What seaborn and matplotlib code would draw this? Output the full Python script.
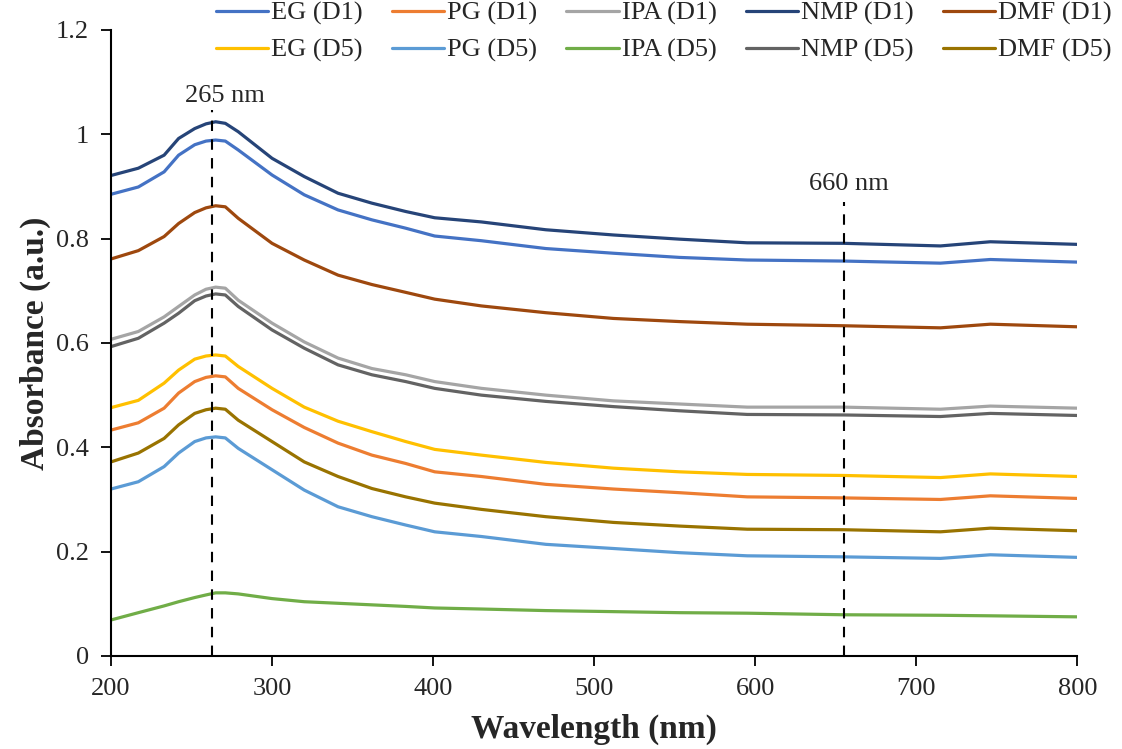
import matplotlib
matplotlib.use('Agg')
from matplotlib import pyplot as plt
import seaborn as sns
import numpy as np
import pandas as pd

sns.set_theme(style='ticks')
plt.rcParams['font.family'] = ['Liberation Serif', 'DejaVu Serif']

# Longitud de onda (nm) y absorbancias
wavelength = [200, 217, 233, 242, 252, 259, 265, 271, 279, 300, 320, 341,
              362, 383, 401, 430, 470, 512, 553, 595, 655, 715, 746, 800]

eg_d1 = [0.885, 0.899, 0.928, 0.960, 0.980, 0.987, 0.989, 0.987, 0.970, 0.922, 0.884, 0.855,
         0.836, 0.820, 0.805, 0.796, 0.781, 0.772, 0.764, 0.759, 0.757, 0.753, 0.760, 0.755]
pg_d1 = [0.433, 0.447, 0.475, 0.504, 0.526, 0.534, 0.537, 0.535, 0.513, 0.472, 0.438, 0.408,
         0.385, 0.369, 0.353, 0.344, 0.329, 0.320, 0.313, 0.305, 0.303, 0.300, 0.307, 0.302]
ipa_d1 = [0.607, 0.622, 0.650, 0.670, 0.692, 0.703, 0.707, 0.705, 0.682, 0.638, 0.602, 0.571,
          0.551, 0.539, 0.526, 0.513, 0.500, 0.489, 0.483, 0.477, 0.477, 0.473, 0.479, 0.475]
nmp_d1 = [0.921, 0.935, 0.960, 0.992, 1.011, 1.020, 1.024, 1.021, 1.005, 0.954, 0.919, 0.887,
          0.868, 0.852, 0.840, 0.832, 0.817, 0.807, 0.799, 0.792, 0.791, 0.786, 0.794, 0.789]
dmf_d1 = [0.761, 0.777, 0.804, 0.829, 0.850, 0.859, 0.863, 0.861, 0.839, 0.791, 0.759, 0.730,
          0.712, 0.697, 0.684, 0.671, 0.658, 0.647, 0.641, 0.636, 0.633, 0.629, 0.636, 0.631]
eg_d5 = [0.476, 0.490, 0.523, 0.548, 0.569, 0.575, 0.577, 0.575, 0.555, 0.513, 0.477, 0.450,
         0.430, 0.411, 0.396, 0.385, 0.371, 0.360, 0.353, 0.348, 0.346, 0.342, 0.349, 0.344]
pg_d5 = [0.320, 0.334, 0.363, 0.389, 0.411, 0.418, 0.420, 0.418, 0.398, 0.357, 0.318, 0.286,
         0.267, 0.251, 0.238, 0.229, 0.214, 0.206, 0.198, 0.192, 0.190, 0.187, 0.194, 0.189]
ipa_d5 = [0.069, 0.083, 0.096, 0.104, 0.112, 0.117, 0.121, 0.121, 0.119, 0.110, 0.104, 0.101,
          0.098, 0.095, 0.092, 0.090, 0.087, 0.085, 0.083, 0.082, 0.079, 0.078, 0.077, 0.075]
nmp_d5 = [0.593, 0.609, 0.638, 0.657, 0.681, 0.690, 0.694, 0.692, 0.670, 0.625, 0.590, 0.558,
          0.539, 0.526, 0.513, 0.500, 0.488, 0.478, 0.470, 0.463, 0.462, 0.459, 0.465, 0.461]
dmf_d5 = [0.372, 0.389, 0.417, 0.443, 0.465, 0.472, 0.475, 0.473, 0.452, 0.411, 0.372, 0.344,
          0.321, 0.305, 0.293, 0.281, 0.267, 0.256, 0.249, 0.243, 0.242, 0.238, 0.245, 0.240]

series = {
    'EG (D1)': eg_d1, 'PG (D1)': pg_d1, 'IPA (D1)': ipa_d1, 'NMP (D1)': nmp_d1, 'DMF (D1)': dmf_d1,
    'EG (D5)': eg_d5, 'PG (D5)': pg_d5, 'IPA (D5)': ipa_d5, 'NMP (D5)': nmp_d5, 'DMF (D5)': dmf_d5,
}
colores = {
    'EG (D1)': '#4472C4', 'PG (D1)': '#ED7D31', 'IPA (D1)': '#A5A5A5', 'NMP (D1)': '#264478',
    'DMF (D1)': '#9E480E', 'EG (D5)': '#FFC000', 'PG (D5)': '#5B9BD5', 'IPA (D5)': '#70AD47',
    'NMP (D5)': '#636363', 'DMF (D5)': '#997300',
}
# orden por columnas para que la leyenda quede en filas D1 / D5
orden = ['EG (D1)', 'EG (D5)', 'PG (D1)', 'PG (D5)', 'IPA (D1)', 'IPA (D5)',
         'NMP (D1)', 'NMP (D5)', 'DMF (D1)', 'DMF (D5)']

yticks = [0, 0.2, 0.4, 0.6, 0.8, 1, 1.2]
ytick_labels = ['0', '0.2', '0.4', '0.6', '0.8', '1', '1.2']
xticks = [200, 300, 400, 500, 600, 700, 800]

# lineas de referencia (posicion en el grafico, etiqueta)
peak_line, peak_top, peak_text = 263, 1.047, '265 nm'
red_line, red_top, red_text = 655, 0.870, '660 nm'

# Tabla larga
rows = []
for name, vals in series.items():
    for w, a in zip(wavelength, vals):
        rows.append({'Wavelength': w, 'Absorbance': a, 'Sample': name})
df = pd.DataFrame(rows)

fig = plt.figure(figsize=(11.22, 7.49), dpi=100)
ax = fig.add_axes([0.0989, 0.1242, 0.8613, 0.8358])

sns.lineplot(data=df, x='Wavelength', y='Absorbance', hue='Sample', hue_order=orden,
             palette=colores, linewidth=2.3, ax=ax)

ax.vlines(peak_line, 0, peak_top, colors='black', linestyles=(0, (5, 4)), linewidth=1.5)
ax.vlines(red_line, 0, red_top, colors='black', linestyles=(0, (5, 4)), linewidth=1.5)
ax.text(peak_line + 8, peak_top + 0.027, peak_text, ha='center', va='center', fontsize=19)
ax.text(red_line + 3, red_top + 0.034, red_text, ha='center', va='center', fontsize=19)

ax.set_xlim(200, 800)
ax.set_ylim(0, 1.2)
ax.set_xticks(xticks)
ax.set_yticks(yticks)
ax.set_yticklabels(ytick_labels)
ax.tick_params(labelsize=19, length=7, width=1.3, color='black', direction='out', pad=9)
ax.set_xlabel('Wavelength (nm)', fontsize=24, fontweight='bold', labelpad=10)
ax.set_ylabel('Absorbance (a.u.)', fontsize=24, fontweight='bold', labelpad=3)
sns.despine(ax=ax)
for s in ['left', 'bottom']:
    ax.spines[s].set_color('black')
    ax.spines[s].set_linewidth(1.5)

handles, labels = ax.get_legend_handles_labels()
ax.legend(handles, labels, ncol=5, loc='upper right', bbox_to_anchor=(1113 / 1122, 1.0),
          bbox_transform=fig.transFigure, frameon=False, fontsize=19, handlelength=2.0,
          handletextpad=0.1, columnspacing=1.1, labelspacing=0.5, borderpad=0.05,
          borderaxespad=0)

fig.savefig('out.png', dpi=100)
